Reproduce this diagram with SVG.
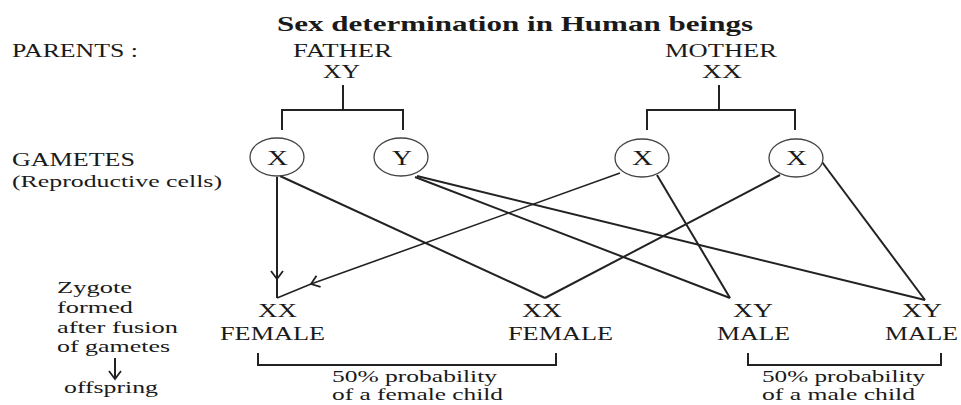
<svg xmlns="http://www.w3.org/2000/svg" width="961" height="405" viewBox="0 0 961 405">
<style>
text{font-family:"Liberation Serif","Times New Roman",serif;fill:#1a1a1a;font-size:19px}
.title{font-weight:bold;font-size:22px}
.g{font-size:20px}
.s{font-size:17px}
.ln{fill:none;stroke:#222;stroke-width:2}
.cell{fill:#fff;stroke:#444;stroke-width:1.3}
</style>
<defs>
<marker id="chev" markerUnits="userSpaceOnUse" markerWidth="14" markerHeight="16" refX="9" refY="7" orient="auto" viewBox="0 0 14 14">
<path d="M1,1 L9,7 L1,13" fill="none" stroke="#222" stroke-width="1.8"/>
</marker>
</defs>
<rect width="961" height="405" fill="#fff"/>
<text class="title" x="277" y="31" textLength="476" lengthAdjust="spacingAndGlyphs">Sex determination in Human beings</text>
<g id="labels">
<text x="12" y="57" textLength="126" lengthAdjust="spacingAndGlyphs">PARENTS :</text>
<text x="12" y="166" textLength="123" lengthAdjust="spacingAndGlyphs">GAMETES</text>
<text class="s" x="12" y="187" textLength="210" lengthAdjust="spacingAndGlyphs">(Reproductive cells)</text>
<text class="s" x="57" y="293" textLength="75" lengthAdjust="spacingAndGlyphs">Zygote</text>
<text class="s" x="57" y="313" textLength="76" lengthAdjust="spacingAndGlyphs">formed</text>
<text class="s" x="57" y="333" textLength="121" lengthAdjust="spacingAndGlyphs">after fusion</text>
<text class="s" x="57" y="352" textLength="113" lengthAdjust="spacingAndGlyphs">of gametes</text>
<text class="s" x="64" y="393" textLength="94" lengthAdjust="spacingAndGlyphs">offspring</text>
</g>
<g id="father">
<text x="293" y="57" textLength="99" lengthAdjust="spacingAndGlyphs">FATHER</text>
<text x="323" y="78" textLength="37" lengthAdjust="spacingAndGlyphs">XY</text>
</g>
<g id="mother">
<text x="665" y="57" textLength="112" lengthAdjust="spacingAndGlyphs">MOTHER</text>
<text x="702" y="78" textLength="40" lengthAdjust="spacingAndGlyphs">XX</text>
</g>
<g id="connectors">
<path class="ln" d="M343,85 V110 M282,130 V110 H403 V130"/>
<path class="ln" d="M719,85 V110 M647,130 V110 H795 V130"/>
<path class="ln" d="M277,177 L277,279" marker-end="url(#chev)"/>
<path class="ln" d="M277,279 L277,298"/>
<path class="ln" d="M280,176 L545,298"/>
<path class="ln" d="M415,177 L730,298"/>
<path class="ln" d="M417,176 L925,300"/>
<path class="ln" d="M620,173 L311,284" marker-end="url(#chev)" style="stroke-width:1.6"/>
<path class="ln" d="M311,284 L277,298" style="stroke-width:1.6"/>
<path class="ln" d="M657,175 L730,298"/>
<path class="ln" d="M780,175 L545,298"/>
<path class="ln" d="M822,162 L925,300"/>
<path class="ln" d="M258,353 V365 H556 V353"/>
<path class="ln" d="M748,353 V365 H941 V353"/>
<path class="ln" d="M115,358 L115,379" marker-end="url(#chev)"/>
</g>
<g id="gamete-father-x"><ellipse class="cell" cx="277" cy="157" rx="27" ry="19"/><text class="g" x="267" y="165" textLength="21" lengthAdjust="spacingAndGlyphs">X</text></g>
<g id="gamete-father-y"><ellipse class="cell" cx="401" cy="157" rx="27" ry="19"/><text class="g" x="392" y="165" textLength="20" lengthAdjust="spacingAndGlyphs">Y</text></g>
<g id="gamete-mother-x1"><ellipse class="cell" cx="642" cy="158" rx="27" ry="19"/><text class="g" x="632" y="165" textLength="21" lengthAdjust="spacingAndGlyphs">X</text></g>
<g id="gamete-mother-x2"><ellipse class="cell" cx="796" cy="158" rx="27" ry="19"/><text class="g" x="786" y="165" textLength="21" lengthAdjust="spacingAndGlyphs">X</text></g>
<g id="offspring-1">
<text x="258" y="317" textLength="39" lengthAdjust="spacingAndGlyphs">XX</text>
<text x="220" y="340" textLength="105" lengthAdjust="spacingAndGlyphs">FEMALE</text>
</g>
<g id="offspring-2">
<text x="522" y="317" textLength="40" lengthAdjust="spacingAndGlyphs">XX</text>
<text x="508" y="340" textLength="105" lengthAdjust="spacingAndGlyphs">FEMALE</text>
</g>
<g id="offspring-3">
<text x="733" y="317" textLength="40" lengthAdjust="spacingAndGlyphs">XY</text>
<text x="717" y="340" textLength="73" lengthAdjust="spacingAndGlyphs">MALE</text>
</g>
<g id="offspring-4">
<text x="902" y="317" textLength="40" lengthAdjust="spacingAndGlyphs">XY</text>
<text x="885" y="340" textLength="73" lengthAdjust="spacingAndGlyphs">MALE</text>
</g>
<g id="prob-female">
<text class="s" x="332" y="382" textLength="165" lengthAdjust="spacingAndGlyphs">50% probability</text>
<text class="s" x="332" y="400" textLength="171" lengthAdjust="spacingAndGlyphs">of a female child</text>
</g>
<g id="prob-male">
<text class="s" x="762" y="382" textLength="163" lengthAdjust="spacingAndGlyphs">50% probability</text>
<text class="s" x="762" y="400" textLength="153" lengthAdjust="spacingAndGlyphs">of a male child</text>
</g>
</svg>
